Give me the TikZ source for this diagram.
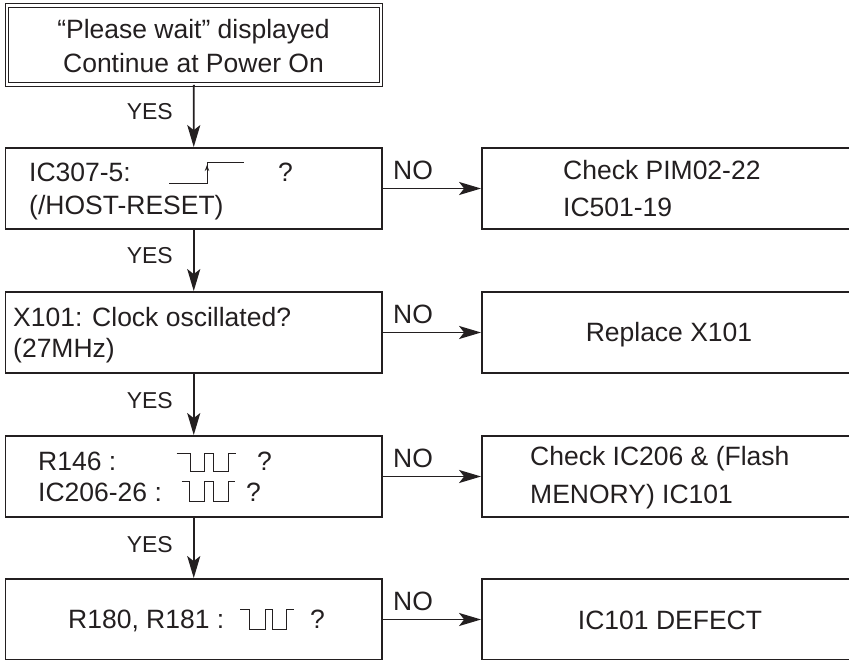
\documentclass[tikz,border=0pt]{standalone}
\usepackage{fontspec}
\setmainfont{Liberation Sans}
\usetikzlibrary{arrows.meta}
\definecolor{ink}{RGB}{35,31,32}
\tikzset{
  box/.style={draw=ink, line width=1.8pt, inner sep=0pt, minimum height=81pt},
  lbox/.style={box, minimum width=376.5pt},
  rbox/.style={box, minimum width=374pt},
  topbox/.style={draw=ink, line width=1pt, double, double distance=2.4pt, inner sep=0pt,
    minimum width=374.3pt, minimum height=78.8pt},
  txt/.style={text=ink, inner sep=0pt, font=\fontsize{26.5}{30}\selectfont},
  yes/.style={text=ink, inner sep=0pt, font=\fontsize{23}{27}\selectfont, anchor=base east},
  no/.style={txt, anchor=base west},
  arr/.style={draw=ink, line width=1.8pt, -{Stealth[length=22pt,width=13pt,inset=5pt]}},
  wave/.style={draw=ink, line width=1pt}
}
\begin{document}
\begin{tikzpicture}[x=1pt,y=-1pt]
\useasboundingbox (0,0) rectangle (849,660);
% boxes
\node[topbox] (b1) at (193.85,45.1) {};
\node[lbox] (b2) at (193.75,188.5) {};
\node[lbox] (b3) at (193.75,332.5) {};
\node[lbox] (b4) at (193.75,476.5) {};
\node[lbox] (b5) at (193.75,619.5) {};
\node[rbox] (r2) at (669,188.5) {};
\node[rbox] (r3) at (669,332.5) {};
\node[rbox] (r4) at (669,476.5) {};
\node[rbox] (r5) at (669,619.5) {};
% texts
\node[txt, anchor=base] (t1a) at (193.5,39) {“Please wait” displayed};
\node[txt, anchor=base] (t1b) at (193.5,72.5) {Continue at Power On};
\node[txt, anchor=base west] (t2a) at (29,182) {IC307-5:};
\node[txt, anchor=base west] (t2q) at (278,182) {?};
\node[txt, anchor=base west] (t2b) at (29,215) {(/HOST-RESET)};
\node[txt, anchor=base west] (t3a) at (13,326.5) {X101: Clock oscillated?};
\node[txt, anchor=base west] (t3b) at (13,358) {(27MHz)};
\node[txt, anchor=base west] (t4a) at (38,470) {R146 :};
\node[txt, anchor=base west] (t4q) at (257,470) {?};
\node[txt, anchor=base west] (t4b) at (38,501.5) {IC206-26 :};
\node[txt, anchor=base west] (t4r) at (246,501.5) {?};
\node[txt, anchor=base west] (t5a) at (68,628) {R180, R181 :};
\node[txt, anchor=base west] (t5q) at (310,628) {?};
\node[txt, anchor=base west] (u2a) at (563,180) {Check PIM02-22};
\node[txt, anchor=base west] (u2b) at (563,216.5) {IC501-19};
\node[txt, anchor=base] (u3) at (669,341.5) {Replace X101};
\node[txt, anchor=base west] (u4a) at (530,465) {Check IC206 \& (Flash};
\node[txt, anchor=base west] (u4b) at (530,503) {MENORY) IC101};
\node[txt, anchor=base] (u5) at (670,629) {IC101 DEFECT};
% waveforms
\draw[wave] (169,184) -- (207,184) -- (207,163) -- (244,163);
\draw[wave, -{Stealth[length=6pt,width=4.5pt]}] (207,178) -- (207,165);
\draw[wave] (176.7,453) -- (190,453) -- (190,471.5) -- (204.3,471.5) -- (204.3,453)
  -- (213.3,453) -- (213.3,471.5) -- (228.3,471.5) -- (228.3,453) -- (235.7,453);
\draw[wave] (181.7,481.3) -- (189.3,481.3) -- (189.3,501.7) -- (204.3,501.7) -- (204.3,481.3)
  -- (213.3,481.3) -- (213.3,501.7) -- (228.3,501.7) -- (228.3,481.3) -- (235,481.3);
\draw[wave] (240,609.3) -- (249.3,609.3) -- (249.3,629.3) -- (265,629.3) -- (265,609.3)
  -- (272.7,609.3) -- (272.7,629.3) -- (286.7,629.3) -- (286.7,609.3) -- (294.3,609.3);
% connectors
\draw[arr] (b1.south) -- (b2.north);
\draw[arr] (b2.south) -- (b3.north);
\draw[arr] (b3.south) -- (b4.north);
\draw[arr] (b4.south) -- (b5.north);
\draw[arr] (b2.east) -- (r2.west);
\draw[arr] (b3.east) -- (r3.west);
\draw[arr] (b4.east) -- (r4.west);
\draw[arr] (b5.east) -- (r5.west);
% labels
\node[yes] (y1) at (173,120) {YES};
\node[yes] (y2) at (173,264) {YES};
\node[yes] (y3) at (173,408) {YES};
\node[yes] (y4) at (173,552) {YES};
\node[no] (n2) at (393,179.5) {NO};
\node[no] (n3) at (393,323.5) {NO};
\node[no] (n4) at (393,467.5) {NO};
\node[no] (n5) at (393,610.5) {NO};
\end{tikzpicture}
\end{document}
